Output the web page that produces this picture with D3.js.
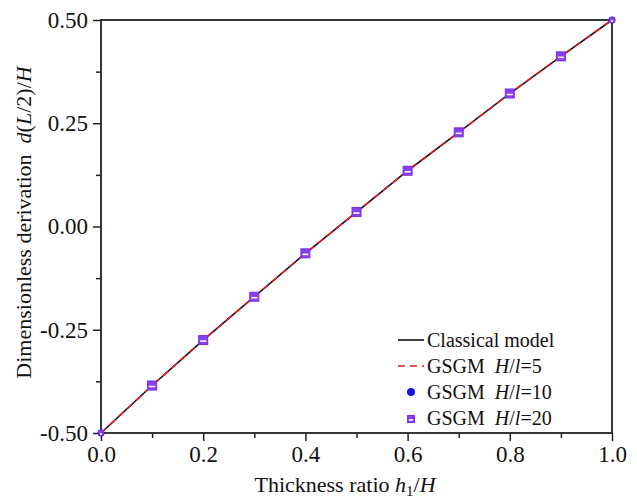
<!DOCTYPE html>
<html>
<head>
<meta charset="utf-8">
<script src="https://cdn.jsdelivr.net/npm/d3@7"></script>
<style>
  body { margin: 0; background: #fff; }
  svg text { font-family: "Liberation Serif", "Times New Roman", serif; fill: #111; }
</style>
</head>
<body>
<svg id="chart" width="637" height="501"></svg>
<script>
// thickness ratio h1/H
const ratios = [0, 0.1, 0.2, 0.3, 0.4, 0.5, 0.6, 0.7, 0.8, 0.9, 1.0];
// d(L/2)/H
const classical = [-0.5, -0.385, -0.275, -0.17, -0.065, 0.035, 0.135, 0.228, 0.322, 0.412, 0.5];
const gsgm5 = [-0.5, -0.385, -0.275, -0.17, -0.065, 0.035, 0.135, 0.228, 0.322, 0.412, 0.5];
const gsgm10 = [-0.5, -0.385, -0.275, -0.17, -0.065, 0.035, 0.135, 0.228, 0.322, 0.412, 0.5];
const gsgm20 = [-0.5, -0.385, -0.275, -0.17, -0.065, 0.035, 0.135, 0.228, 0.322, 0.412, 0.5];
const xTicks = [0, 0.2, 0.4, 0.6, 0.8, 1.0];
const yTicks = [-0.5, -0.25, 0, 0.25, 0.5];

const svg = d3.select("#chart");
const plotL = 101, plotR = 612, plotT = 20, plotB = 433;

const x = d3.scaleLinear().domain([0, 1]).range([plotL, plotR]);
const y = d3.scaleLinear().domain([-0.5, 0.5]).range([plotB, plotT]);

// minor ticks
const xMinor = [0.1, 0.3, 0.5, 0.7, 0.9];
const yMinor = [-0.375, -0.125, 0.125, 0.375];

svg.append("g")
    .attr("transform", `translate(0,${plotB})`)
    .call(d3.axisBottom(x).tickValues(xMinor).tickSize(5).tickFormat(""))
    .call(g => g.select(".domain").remove());
svg.append("g")
    .attr("transform", `translate(${plotL},0)`)
    .call(d3.axisLeft(y).tickValues(yMinor).tickSize(5).tickFormat(""))
    .call(g => g.select(".domain").remove());

const xAxis = svg.append("g")
    .attr("transform", `translate(0,${plotB})`)
    .call(d3.axisBottom(x).tickValues(xTicks).tickSize(8).tickPadding(5).tickFormat(d3.format(".1f")));
const yAxis = svg.append("g")
    .attr("transform", `translate(${plotL},0)`)
    .call(d3.axisLeft(y).tickValues(yTicks).tickSize(8).tickPadding(5).tickFormat(d3.format(".2f")));

[xAxis, yAxis].forEach(g => {
    g.selectAll(".domain").remove();
    g.selectAll("text").attr("font-size", 23).attr("fill", "#111")
        .style("font-family", "Liberation Serif, serif");
});
// hyphen minus like the original
yAxis.selectAll("text").text(d => d3.format(".2f")(d).replace("−", "-"));
svg.selectAll(".tick line").attr("stroke", "#222").attr("stroke-width", 1.5);

// frame
svg.append("rect")
    .attr("x", plotL).attr("y", plotT)
    .attr("width", plotR - plotL).attr("height", plotB - plotT)
    .attr("fill", "none").attr("stroke", "#222").attr("stroke-width", 1.8);

const line = d3.line().x((d, i) => x(ratios[i])).y(d => y(d));

svg.append("path").datum(classical)
    .attr("d", line).attr("fill", "none")
    .attr("stroke", "#111").attr("stroke-width", 1.6);

svg.append("path").datum(gsgm5)
    .attr("d", line).attr("fill", "none")
    .attr("stroke", "#e8191c").attr("stroke-width", 1.6)
    .attr("stroke-dasharray", "7,5");

svg.selectAll("circle.g10").data(gsgm10).join("circle")
    .attr("class", "g10")
    .attr("cx", (d, i) => x(ratios[i])).attr("cy", d => y(d))
    .attr("r", 3.5).attr("fill", "#1515e6");

function drawSquare(g, cx, cy, s) {
    g.append("rect").attr("x", cx - s / 2).attr("y", cy - s / 2)
        .attr("width", s).attr("height", s)
        .attr("fill", "#8a3df0").attr("stroke", "#7a2fe8").attr("stroke-width", 1);
    g.append("rect").attr("x", cx - s / 2 + 1.5).attr("y", cy + 0.2)
        .attr("width", s - 3).attr("height", 1.6)
        .attr("fill", "#fff");
}
const sq = svg.append("g");
gsgm20.forEach((d, i) => {
    const s = (i === 0 || i === gsgm20.length - 1) ? 5 : 9;
    drawSquare(sq, x(ratios[i]), y(d), s);
});

// legend
const lg = svg.append("g").attr("font-size", 20);
const lx = 411, ly = 340, gap = 26, tx = 427;
function labelGSGM(yy, val) {
    const t = lg.append("text").attr("x", tx).attr("y", yy + 7);
    t.append("tspan").text("GSGM\u2002");
    t.append("tspan").attr("font-style", "italic").text("H");
    t.append("tspan").text("/");
    t.append("tspan").attr("font-style", "italic").text("l");
    t.append("tspan").text("=" + val);
}
lg.append("line").attr("x1", lx - 13).attr("x2", lx + 13).attr("y1", ly).attr("y2", ly)
    .attr("stroke", "#111").attr("stroke-width", 1.6);
lg.append("text").attr("x", tx).attr("y", ly + 7).text("Classical model");

lg.append("line").attr("x1", lx - 13).attr("x2", lx + 13).attr("y1", ly + gap).attr("y2", ly + gap)
    .attr("stroke", "#e8191c").attr("stroke-width", 1.6).attr("stroke-dasharray", "7,5");
labelGSGM(ly + gap, 5);

lg.append("circle").attr("cx", lx).attr("cy", ly + 2 * gap).attr("r", 4).attr("fill", "#1515e6");
labelGSGM(ly + 2 * gap, 10);

drawSquare(lg, lx, ly + 3 * gap + 1, 7);
labelGSGM(ly + 3 * gap, 20);

// axis titles
const xt = svg.append("text").attr("x", 345).attr("y", 492)
    .attr("text-anchor", "middle").attr("font-size", 22);
xt.append("tspan").text("Thickness ratio ");
xt.append("tspan").attr("font-style", "italic").text("h");
xt.append("tspan").attr("font-size", 15).attr("dy", 4).text("1");
xt.append("tspan").attr("dy", -4).text("/");
xt.append("tspan").attr("font-style", "italic").text("H");

const yt = svg.append("text")
    .attr("transform", `translate(31,${(plotT + plotB) / 2 - 4}) rotate(-90)`)
    .attr("text-anchor", "middle").attr("font-size", 22);
yt.append("tspan").text("Dimensionless derivation\u00a0\u00a0");
yt.append("tspan").attr("font-style", "italic").text("d");
yt.append("tspan").text("(");
yt.append("tspan").attr("font-style", "italic").text("L");
yt.append("tspan").text("/2)/");
yt.append("tspan").attr("font-style", "italic").text("H");
</script>
</body>
</html>
